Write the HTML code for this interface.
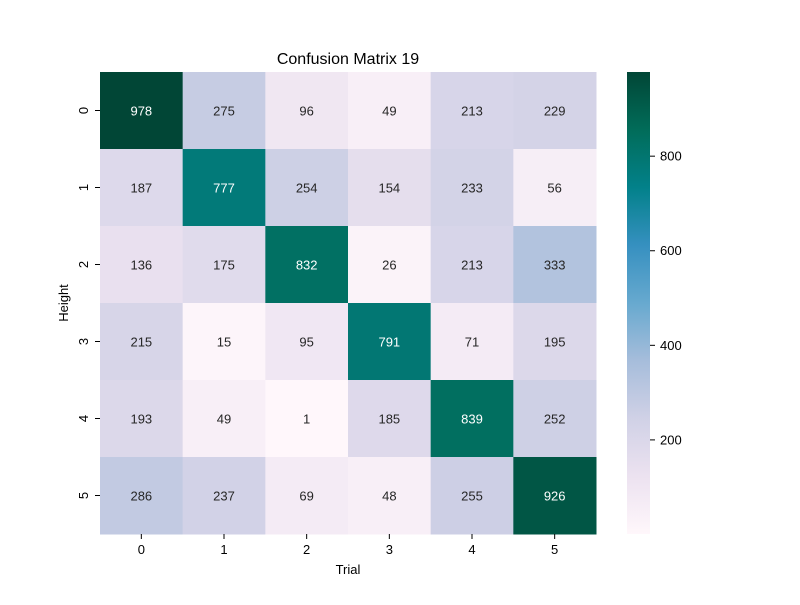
<!DOCTYPE html>
<html><head><meta charset="utf-8"><style>
body{margin:0;background:#fff;font-family:"Liberation Sans","DejaVu Sans",sans-serif}
</style></head><body>
<svg id="chart" width="800" height="600" xmlns="http://www.w3.org/2000/svg">
<defs><linearGradient id="cbg" x1="0" y1="1" x2="0" y2="0"></linearGradient></defs>
<text x="348" y="64" font-size="16" text-anchor="middle" fill="#000">Confusion Matrix 19</text>
<g id="cells"></g>
<g id="axes"></g>
<text x="348" y="574" font-size="13" text-anchor="middle">Trial</text>
<text transform="translate(68,303) rotate(-90)" font-size="13" text-anchor="middle">Height</text>
<rect x="627" y="72" width="23" height="462" fill="url(#cbg)"/>
<g id="cbticks"></g>
</svg>
<script>
const xLabels=["0","1","2","3","4","5"];
const yLabels=["0","1","2","3","4","5"];
const matrix=[
[978,275,96,49,213,229],
[187,777,254,154,233,56],
[136,175,832,26,213,333],
[215,15,95,791,71,195],
[193,49,1,185,839,252],
[286,237,69,48,255,926]];
const cbTicks=[200,400,600,800];
const vmin=1,vmax=978;
const stops=["#fff7fb","#ece2f0","#d0d1e6","#a6bddb","#67a9cf","#3690c0","#02818a","#016c59","#014636"];
const NS="http://www.w3.org/2000/svg";
const X0=100,Y0=72,W=496,H=462;
function hex(h){return [1,3,5].map(i=>parseInt(h.substr(i,2),16));}
function color(v){let t=Math.max(0,Math.min(1,(v-vmin)/(vmax-vmin)))*(stops.length-1);let i=Math.min(Math.floor(t),stops.length-2),f=t-i;const a=hex(stops[i]),b=hex(stops[i+1]);return a.map((c,k)=>Math.round(c+(b[k]-c)*f));}
function lum(c){const l=c.map(x=>{x/=255;return x<=0.03928?x/12.92:Math.pow((x+0.055)/1.055,2.4)});return 0.2126*l[0]+0.7152*l[1]+0.0722*l[2];}
function xs(j){return X0+j*W/xLabels.length;}
function ys(i){return Y0+i*H/yLabels.length;}
function cbY(v){return Y0+H-(v-vmin)/(vmax-vmin)*H;}
const cw=W/xLabels.length,ch=H/yLabels.length;
const cells=document.getElementById('cells');
matrix.forEach((row,i)=>row.forEach((v,j)=>{
 const c=color(v);
 const r=document.createElementNS(NS,'rect');
 r.setAttribute('x',xs(j));r.setAttribute('y',ys(i));r.setAttribute('width',cw+0.5);r.setAttribute('height',ch+0.5);
 r.setAttribute('fill',`rgb(${c})`);
 
 
 cells.appendChild(r);
 const t=document.createElementNS(NS,'text');
 t.setAttribute('x',xs(j)+cw/2);t.setAttribute('y',ys(i)+ch/2+5);
 t.setAttribute('text-anchor','middle');t.setAttribute('font-size','13');
 t.setAttribute('fill',lum(c)<0.408?'#fff':'#262626');
 t.textContent=v;
 
 
 cells.appendChild(t);
}));
const axes=document.getElementById('axes');
xLabels.forEach((l,j)=>{
 const x=xs(j)+cw/2;
 const tk=document.createElementNS(NS,'line');
 tk.setAttribute('x1',x);tk.setAttribute('x2',x);tk.setAttribute('y1',Y0+H);tk.setAttribute('y2',Y0+H+5);tk.setAttribute('stroke','#000');
 
 
 axes.appendChild(tk);
 const t=document.createElementNS(NS,'text');
 t.setAttribute('x',x);t.setAttribute('y',Y0+H+20);t.setAttribute('text-anchor','middle');t.setAttribute('font-size','13');
 t.textContent=l;
 
 
 axes.appendChild(t);
});
yLabels.forEach((l,i)=>{
 const y=ys(i)+ch/2;
 const tk=document.createElementNS(NS,'line');
 tk.setAttribute('x1',X0-5);tk.setAttribute('x2',X0);tk.setAttribute('y1',y);tk.setAttribute('y2',y);tk.setAttribute('stroke','#000');
 
 
 axes.appendChild(tk);
 const t=document.createElementNS(NS,'text');
 t.setAttribute('transform',`translate(${X0-12},${y}) rotate(-90)`);t.setAttribute('text-anchor','middle');t.setAttribute('font-size','13');
 t.textContent=l;
 
 
 axes.appendChild(t);
});
const g=document.getElementById('cbg');
stops.forEach((s,k)=>{const st=document.createElementNS(NS,'stop');st.setAttribute('offset',k/(stops.length-1));st.setAttribute('stop-color',s);g.appendChild(st);});
const cb=document.getElementById('cbticks');
cbTicks.forEach(v=>{
 const y=cbY(v);
 const tk=document.createElementNS(NS,'line');
 tk.setAttribute('x1',650);tk.setAttribute('x2',655);tk.setAttribute('y1',y);tk.setAttribute('y2',y);tk.setAttribute('stroke','#000');
 
 
 cb.appendChild(tk);
 const t=document.createElementNS(NS,'text');
 t.setAttribute('x',660);t.setAttribute('y',y+4.5);t.setAttribute('font-size','13');
 t.textContent=v;
 
 
 cb.appendChild(t);
});
</script>
</body></html>
